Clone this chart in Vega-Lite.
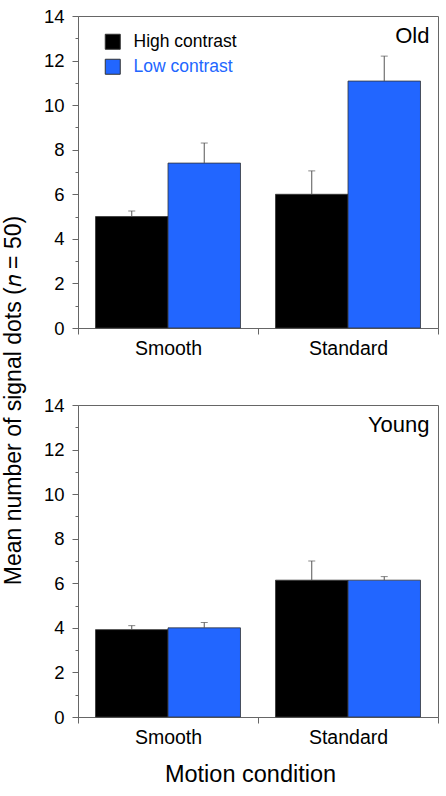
{
  "$schema": "https://vega.github.io/schema/vega-lite/v6.json",
  "padding": {"left": 3, "top": 6, "right": 8, "bottom": 2},
  "config": {
    "font": "Liberation Sans",
    "view": {"stroke": "#666666", "strokeWidth": 1},
    "axis": {"domainColor": "#666666", "tickColor": "#666666", "labelColor": "#000000", "grid": false, "labelFont": "Liberation Sans", "titleFont": "Liberation Sans", "titleFontWeight": "normal", "titleColor": "#000000"},
    "title": {"font": "Liberation Sans", "fontWeight": "normal", "color": "#000000"}
  },
  "title": {"text": "Mean number of signal dots (𝑛 = 50)", "orient": "left", "anchor": "middle", "fontSize": 23, "offset": 16.5, "dx": -4},
  "datasets": {
    "bars": [
      {"age": "Old", "motion": "Smooth", "contrast": "High contrast", "mean": 5.0, "upper": 5.25},
      {"age": "Old", "motion": "Smooth", "contrast": "Low contrast", "mean": 7.4, "upper": 8.3},
      {"age": "Old", "motion": "Standard", "contrast": "High contrast", "mean": 6.0, "upper": 7.05},
      {"age": "Old", "motion": "Standard", "contrast": "Low contrast", "mean": 11.08, "upper": 12.2},
      {"age": "Young", "motion": "Smooth", "contrast": "High contrast", "mean": 3.92, "upper": 4.1},
      {"age": "Young", "motion": "Smooth", "contrast": "Low contrast", "mean": 4.0, "upper": 4.24},
      {"age": "Young", "motion": "Standard", "contrast": "High contrast", "mean": 6.14, "upper": 7.0},
      {"age": "Young", "motion": "Standard", "contrast": "Low contrast", "mean": 6.14, "upper": 6.3}
    ]
  },
  "resolve": {"legend": {"color": "independent"}},
  "spacing": 37,
  "vconcat": [
    {
      "width": 360,
      "height": 312,
      "encoding": {
        "x": {"field": "motion", "type": "nominal", "sort": ["Smooth", "Standard"], "title": null,
              "scale": {"paddingInner": 0, "paddingOuter": 0},
              "axis": {"tickBand": "extent", "tickSize": 6, "labelFontSize": 19.5, "labelPadding": 5, "labelAngle": 0}}
      },
      "layer": [
        {
          "data": {"name": "bars"},
          "transform": [{"filter": "datum.age === 'Old'"}],
          "mark": {"type": "bar", "stroke": "#333333", "strokeWidth": 0.8},
          "encoding": {
            "xOffset": {"field": "contrast", "type": "nominal", "sort": ["High contrast", "Low contrast"],
                        "scale": {"paddingInner": 0, "paddingOuter": 0.2414}},
            "y": {"field": "mean", "type": "quantitative", "title": null, "scale": {"domain": [0, 14], "nice": false},
                  "axis": {"values": [0, 2, 4, 6, 8, 10, 12, 14], "tickSize": 6, "labelFontSize": 18.5, "labelPadding": 8}},
            "color": {"field": "contrast", "type": "nominal",
                      "scale": {"domain": ["High contrast", "Low contrast"], "range": ["#000000", "#2266ff"]},
                      "legend": {"orient": "none", "legendX": 26, "legendY": 17, "title": null, "padding": 0,
                                 "symbolType": "square", "symbolSize": 225, "symbolStrokeColor": "#333333", "symbolStrokeWidth": 1,
                                 "labelFont": "Liberation Sans", "labelFontSize": 17.5, "labelOffset": 12, "rowPadding": 5,
                                 "encode": {"labels": {"update": {"fill": {"signal": "datum.label === 'Low contrast' ? '#2266ff' : '#000000'"}}}}}}
          }
        },
        {
          "data": {"name": "bars"},
          "transform": [{"filter": "datum.age === 'Old'"}],
          "mark": {"type": "rule", "color": "#555555", "strokeWidth": 1},
          "encoding": {
            "xOffset": {"field": "contrast", "type": "nominal", "sort": ["High contrast", "Low contrast"]},
            "y": {"field": "mean", "type": "quantitative", "scale": {"domain": [0, 14], "nice": false}, "axis": null},
            "y2": {"field": "upper"}
          }
        },
        {
          "data": {"name": "bars"},
          "transform": [{"filter": "datum.age === 'Old'"}],
          "mark": {"type": "tick", "orient": "horizontal", "size": 7, "thickness": 1, "color": "#555555"},
          "encoding": {
            "xOffset": {"field": "contrast", "type": "nominal", "sort": ["High contrast", "Low contrast"]},
            "y": {"field": "upper", "type": "quantitative", "title": null, "scale": {"domain": [0, 14], "nice": false},
                  "axis": {"orient": "left", "values": [1, 3, 5, 7, 9, 11, 13], "labels": false, "domain": false, "tickSize": 3}}
          }
        },
        {
          "data": {"values": [{"group": "Old"}]},
          "mark": {"type": "text", "align": "right", "baseline": "alphabetic", "dx": -8.5, "fontSize": 22, "color": "#000000"},
          "encoding": {
            "x": {"datum": "Standard", "type": "nominal", "bandPosition": 1},
            "y": {"datum": 12.78, "type": "quantitative", "axis": null},
            "text": {"field": "group"}
          }
        }
      ],
      "resolve": {"axis": {"y": "independent"}}
    },
    {
      "width": 360,
      "height": 312,
      "encoding": {
        "x": {"field": "motion", "type": "nominal", "sort": ["Smooth", "Standard"], "title": "Motion condition",
              "scale": {"paddingInner": 0, "paddingOuter": 0},
              "axis": {"tickBand": "extent", "tickSize": 6, "labelFontSize": 19.5, "labelPadding": 5, "labelAngle": 0, "titleFontSize": 23.5, "titlePadding": 16, "titleX": 172}}
      },
      "layer": [
        {
          "data": {"name": "bars"},
          "transform": [{"filter": "datum.age === 'Young'"}],
          "mark": {"type": "bar", "stroke": "#333333", "strokeWidth": 0.8},
          "encoding": {
            "xOffset": {"field": "contrast", "type": "nominal", "sort": ["High contrast", "Low contrast"],
                        "scale": {"paddingInner": 0, "paddingOuter": 0.2414}},
            "y": {"field": "mean", "type": "quantitative", "title": null, "scale": {"domain": [0, 14], "nice": false},
                  "axis": {"values": [0, 2, 4, 6, 8, 10, 12, 14], "tickSize": 6, "labelFontSize": 18.5, "labelPadding": 8}},
            "color": {"field": "contrast", "type": "nominal",
                      "scale": {"domain": ["High contrast", "Low contrast"], "range": ["#000000", "#2266ff"]},
                      "legend": null}
          }
        },
        {
          "data": {"name": "bars"},
          "transform": [{"filter": "datum.age === 'Young'"}],
          "mark": {"type": "rule", "color": "#555555", "strokeWidth": 1},
          "encoding": {
            "xOffset": {"field": "contrast", "type": "nominal", "sort": ["High contrast", "Low contrast"]},
            "y": {"field": "mean", "type": "quantitative", "scale": {"domain": [0, 14], "nice": false}, "axis": null},
            "y2": {"field": "upper"}
          }
        },
        {
          "data": {"name": "bars"},
          "transform": [{"filter": "datum.age === 'Young'"}],
          "mark": {"type": "tick", "orient": "horizontal", "size": 7, "thickness": 1, "color": "#555555"},
          "encoding": {
            "xOffset": {"field": "contrast", "type": "nominal", "sort": ["High contrast", "Low contrast"]},
            "y": {"field": "upper", "type": "quantitative", "title": null, "scale": {"domain": [0, 14], "nice": false},
                  "axis": {"orient": "left", "values": [1, 3, 5, 7, 9, 11, 13], "labels": false, "domain": false, "tickSize": 3}}
          }
        },
        {
          "data": {"values": [{"group": "Young"}]},
          "mark": {"type": "text", "align": "right", "baseline": "alphabetic", "dx": -8.5, "fontSize": 22, "color": "#000000"},
          "encoding": {
            "x": {"datum": "Standard", "type": "nominal", "bandPosition": 1},
            "y": {"datum": 12.78, "type": "quantitative", "axis": null},
            "text": {"field": "group"}
          }
        }
      ],
      "resolve": {"axis": {"y": "independent"}}
    }
  ]
}
